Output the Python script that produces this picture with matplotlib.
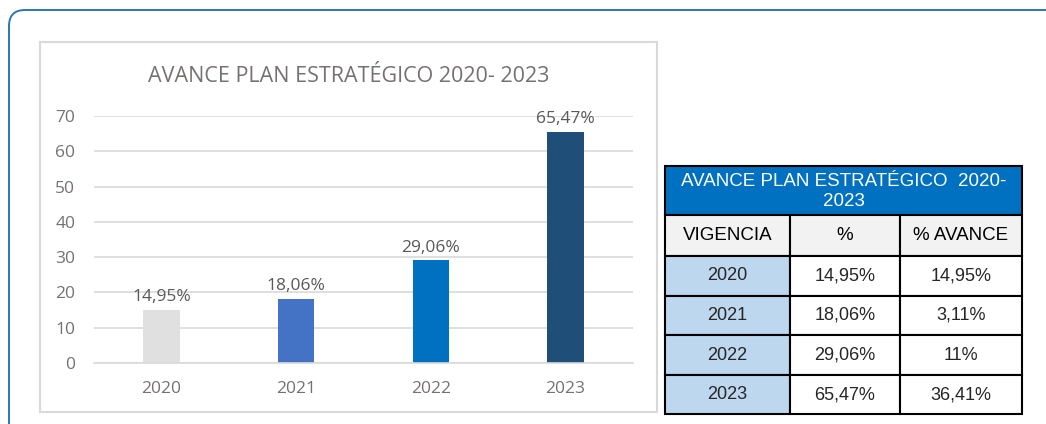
import matplotlib.pyplot as plt
from matplotlib.patches import FancyBboxPatch, Rectangle

years = ["2020", "2021", "2022", "2023"]
avance = [14.95, 18.06, 29.06, 65.47]
labels = ["14,95%", "18,06%", "29,06%", "65,47%"]
bar_colors = ["#e0e0e0", "#4472c4", "#0070c0", "#1f4e79"]

table_title = "AVANCE PLAN ESTRATÉGICO  2020-\n2023"
table_cols = ["VIGENCIA", "%", "% AVANCE"]
col_pct = ["14,95%", "18,06%", "29,06%", "65,47%"]
col_avance = ["14,95%", "3,11%", "11%", "36,41%"]

W, H = 1046, 424
fig = plt.figure(figsize=(W / 100, H / 100), dpi=100)
fig.patch.set_facecolor("white")

# background layer in pixel coordinates
bg = fig.add_axes([0, 0, 1, 1], zorder=0)
bg.set_xlim(0, W)
bg.set_ylim(H, 0)
bg.axis("off")

frame = FancyBboxPatch((9, 10), 1060, 440, boxstyle="round,pad=0,rounding_size=16",
                       facecolor="none", edgecolor="#2e75b6", linewidth=1.4, clip_on=False)
bg.add_patch(frame)
bg.add_patch(Rectangle((40, 42), 617, 370, facecolor="white", edgecolor="#d9d9d9", linewidth=1.5))

bg.text(349, 76, "AVANCE PLAN ESTRATÉGICO 2020- 2023", ha="center", va="center",
        fontsize=15.5, color="#767171", family="Open Sans")

# table
xs = [665, 790, 900, 1022]
y_title, y_head = 166, 215
y_rows = [256, 296, 335, 375, 414]
tf = "Liberation Sans"
bg.add_patch(Rectangle((xs[0], y_title), xs[-1] - xs[0], y_head - y_title,
                       facecolor="#0070c0", edgecolor="black", linewidth=1.5))
bg.text((xs[0] + xs[-1]) / 2, (y_title + y_head) / 2 + 1, table_title, ha="center", va="center",
        fontsize=13.5, color="white", family=tf, linespacing=1.2)
for j, name in enumerate(table_cols):
    bg.add_patch(Rectangle((xs[j], y_head), xs[j + 1] - xs[j], y_rows[0] - y_head,
                           facecolor="#f2f2f2", edgecolor="black", linewidth=1.5))
    bg.text((xs[j] + xs[j + 1]) / 2, (y_head + y_rows[0]) / 2, name, ha="center", va="center",
            fontsize=13.5, color="black", family=tf)
for i in range(len(years)):
    row = [years[i], col_pct[i], col_avance[i]]
    for j, val in enumerate(row):
        fc = "#bdd7ee" if j == 0 else "white"
        bg.add_patch(Rectangle((xs[j], y_rows[i]), xs[j + 1] - xs[j], y_rows[i + 1] - y_rows[i],
                               facecolor=fc, edgecolor="black", linewidth=1.5))
        bg.text((xs[j] + xs[j + 1]) / 2, (y_rows[i] + y_rows[i + 1]) / 2, val, ha="center",
                va="center", fontsize=13, color="#262626", family=tf)

# bar chart
ax = fig.add_axes([94 / W, 1 - 363 / H, (633 - 94) / W, (363 - 116) / H], zorder=1)
ax.patch.set_alpha(0)
x = range(len(years))
bars = ax.bar(x, avance, width=0.27, color=bar_colors, zorder=2)
for b, lab in zip(bars, labels):
    ax.text(b.get_x() + b.get_width() / 2, b.get_height() + 1.4, lab, ha="center", va="bottom",
            fontsize=12.5, color="#595959", family="Open Sans", clip_on=False)

ax.set_xlim(-0.5, len(years) - 0.5)
ax.set_ylim(0, 70)
ax.set_yticks(range(0, 71, 10))
ax.set_xticks(list(x))
ax.set_xticklabels(years)
ax.grid(axis="y", color="#d9d9d9", linewidth=1.2, zorder=0)
ax.set_axisbelow(True)
for s in ["top", "right", "left"]:
    ax.spines[s].set_visible(False)
ax.spines["bottom"].set_color("#d9d9d9")
ax.spines["bottom"].set_linewidth(1.2)
ax.tick_params(length=0, labelsize=12.5, labelcolor="#767171", pad=13)
ax.tick_params(axis="y", pad=13.5)
for t in ax.get_xticklabels() + ax.get_yticklabels():
    t.set_family("Open Sans")

fig.savefig("out.png", dpi=100)
